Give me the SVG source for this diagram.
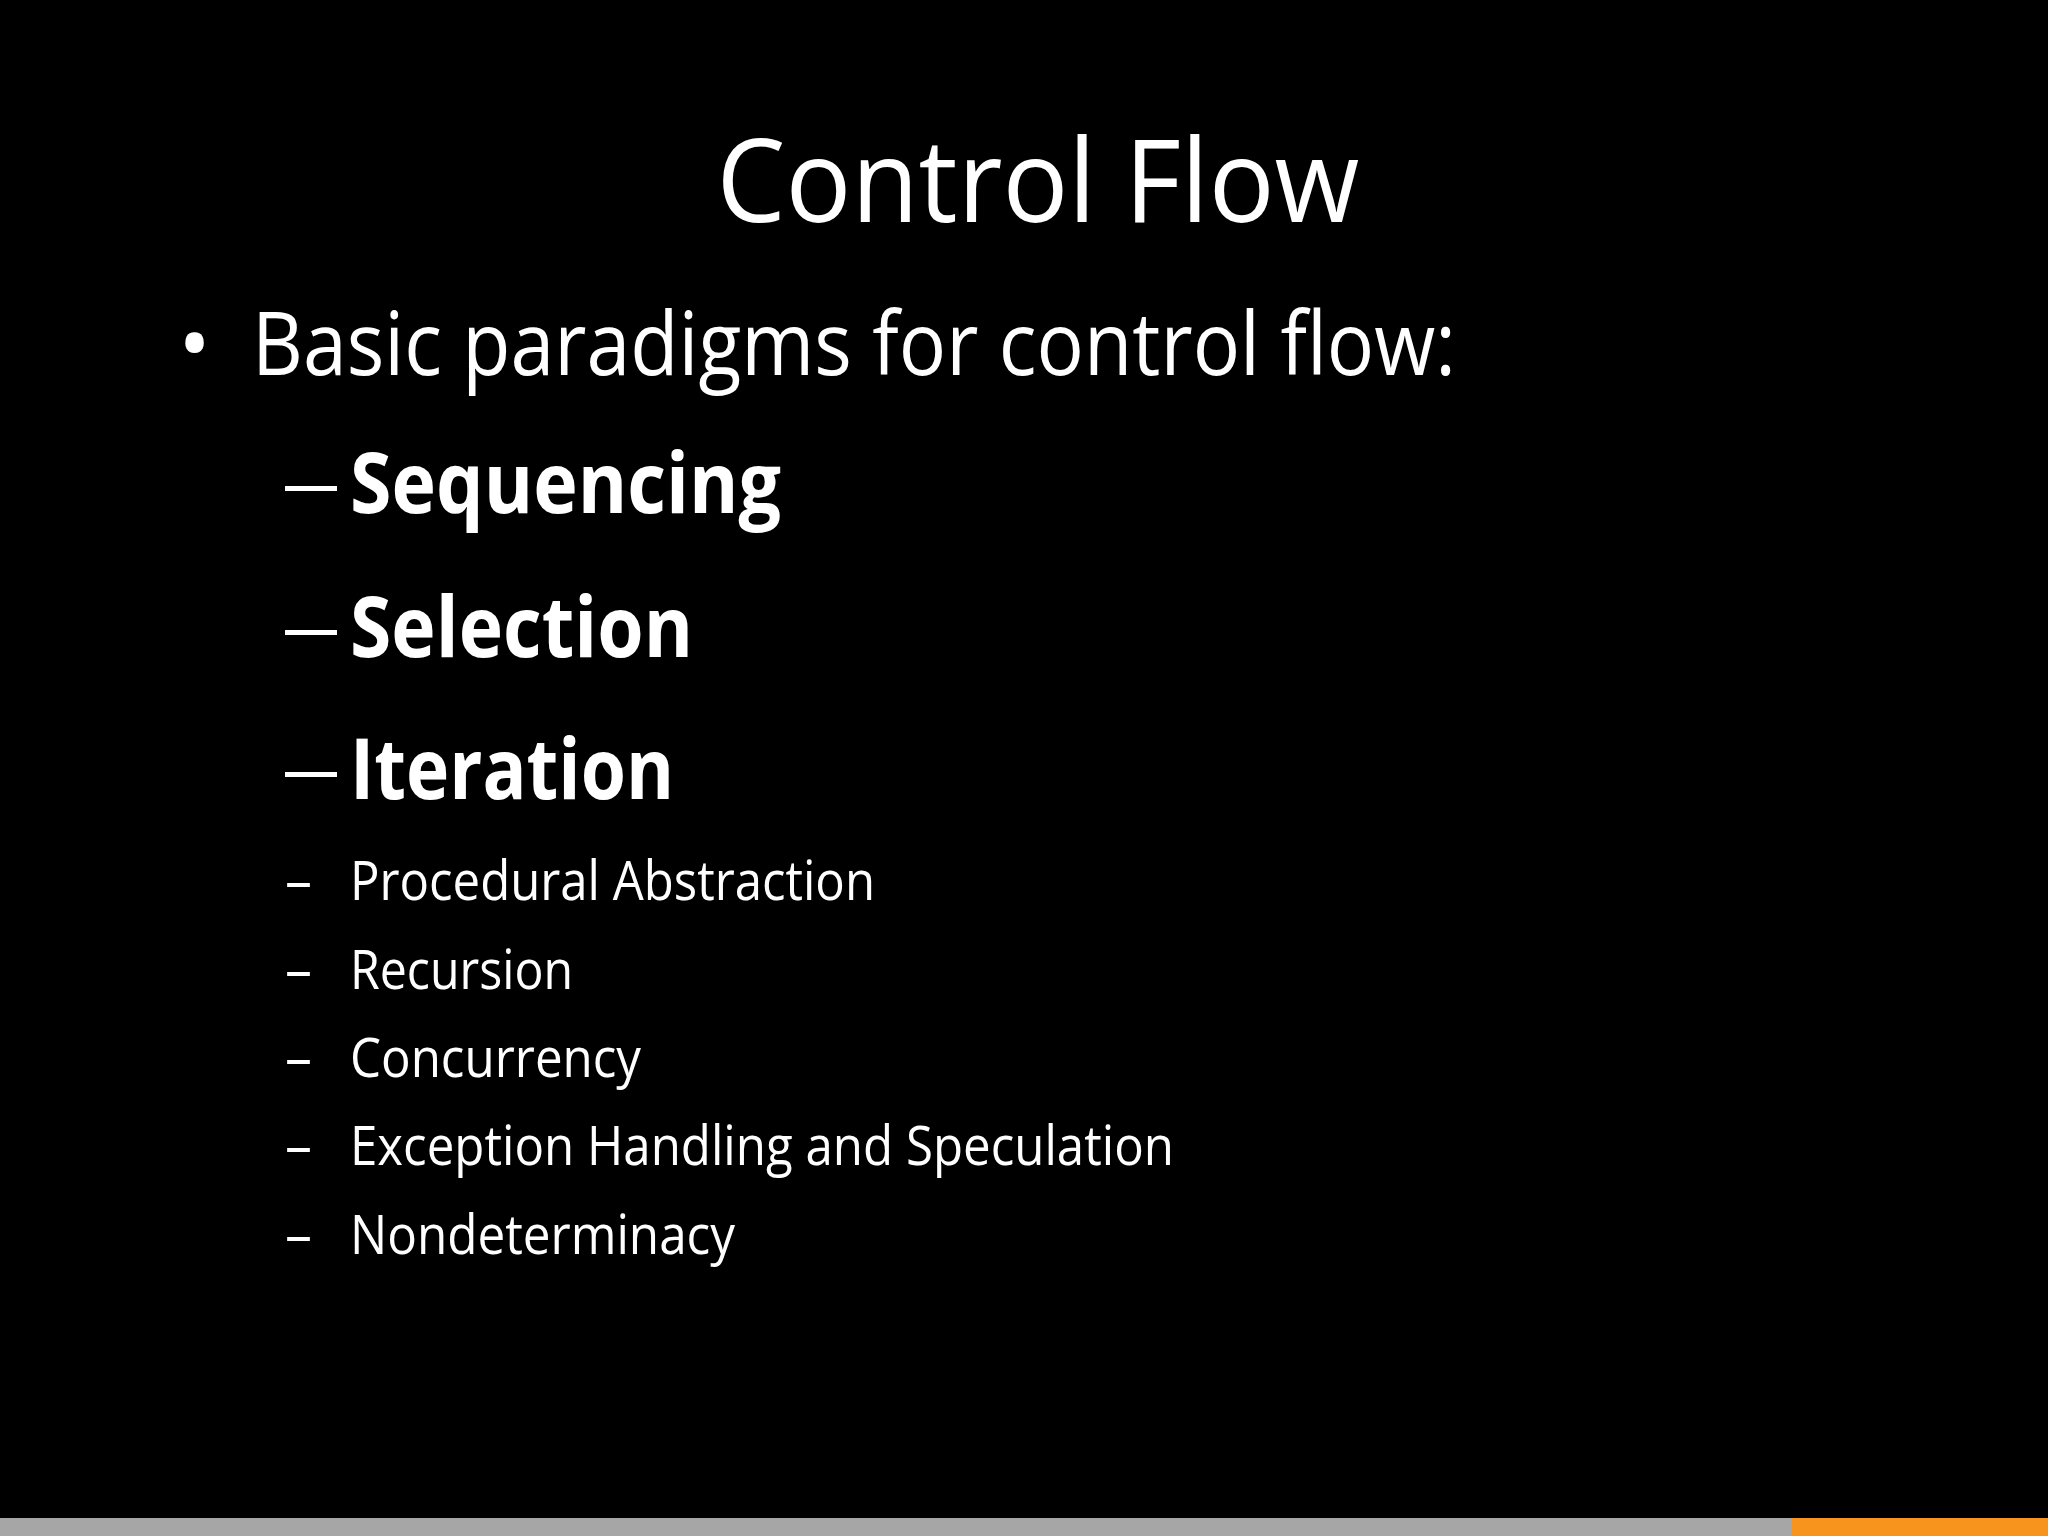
<svg xmlns="http://www.w3.org/2000/svg" width="2048" height="1536" viewBox="0 0 2048 1536">
<style>
text{fill:#fff;font-family:"Open Sans","Liberation Sans",sans-serif}
.b{font-size:88px}
.h{font-size:84px;font-weight:bold}
.s{font-size:54px}
</style>
<rect width="2048" height="1536" fill="#000"/>
<rect x="0" y="1518" width="2048" height="18" fill="#a6a6a6"/>
<rect x="1792" y="1518" width="256" height="18" fill="#f7941d"/>
<text x="1038" y="222" font-size="116" text-anchor="middle" textLength="643" lengthAdjust="spacingAndGlyphs">Control Flow</text>
<text x="178" y="375" class="b">•</text>
<text x="252" y="375" class="b" textLength="1204" lengthAdjust="spacingAndGlyphs">Basic paradigms for control flow:</text>
<g class="h">
<rect x="285" y="486" width="52" height="5" fill="#fff"/>
<text x="350" y="513" textLength="431" lengthAdjust="spacingAndGlyphs">Sequencing</text>
<rect x="285" y="630" width="52" height="5" fill="#fff"/>
<text x="350" y="657" textLength="343" lengthAdjust="spacingAndGlyphs">Selection</text>
<rect x="285" y="772" width="52" height="5" fill="#fff"/>
<text x="350" y="799" textLength="324" lengthAdjust="spacingAndGlyphs">Iteration</text>
</g>
<g class="s">
<text x="285" y="900">–</text><text x="350" y="900" textLength="525" lengthAdjust="spacingAndGlyphs">Procedural Abstraction</text>
<text x="285" y="989">–</text><text x="350" y="989" textLength="223" lengthAdjust="spacingAndGlyphs">Recursion</text>
<text x="285" y="1077">–</text><text x="350" y="1077" textLength="291" lengthAdjust="spacingAndGlyphs">Concurrency</text>
<text x="285" y="1165">–</text><text x="350" y="1165" textLength="824" lengthAdjust="spacingAndGlyphs">Exception Handling and Speculation</text>
<text x="285" y="1254">–</text><text x="350" y="1254" textLength="385" lengthAdjust="spacingAndGlyphs">Nondeterminacy</text>
</g>
</svg>
